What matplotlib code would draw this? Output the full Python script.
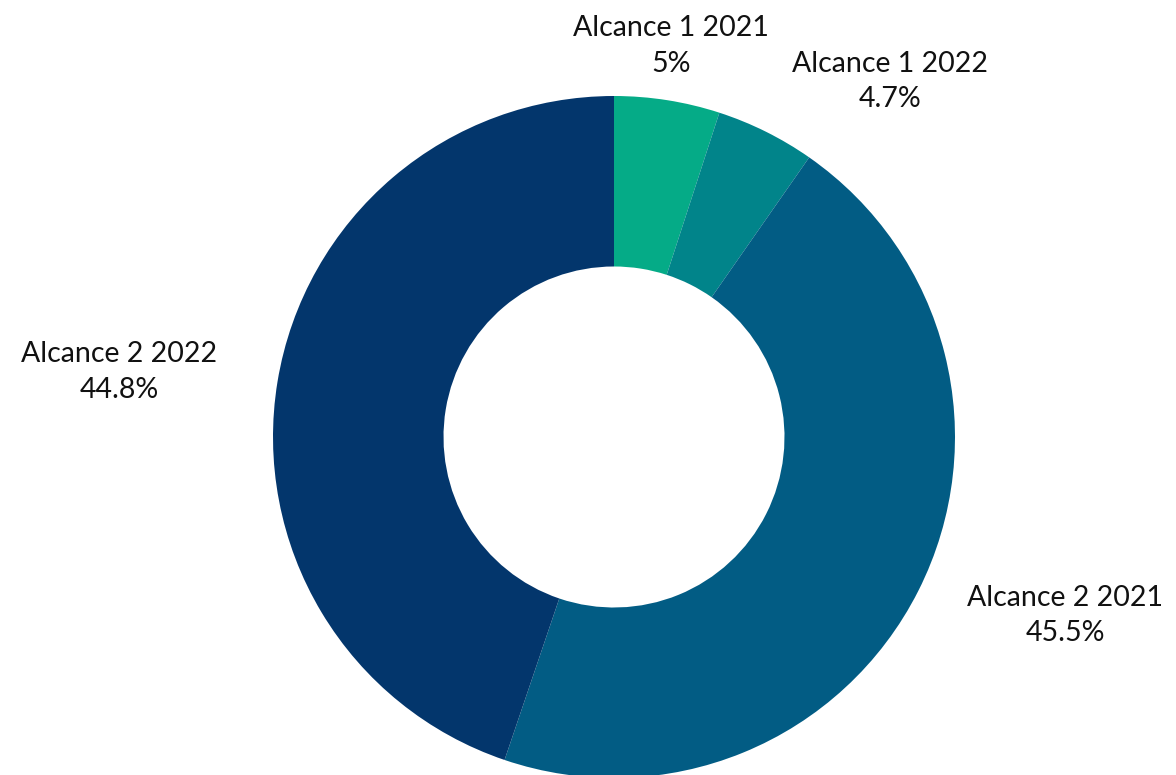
import numpy as np
import matplotlib.pyplot as plt

labels = ["Alcance 1 2021", "Alcance 1 2022", "Alcance 2 2021", "Alcance 2 2022"]
values = [5, 4.7, 45.5, 44.8]
pct_labels = ["5%", "4.7%", "45.5%", "44.8%"]
colors = ["#05ab87", "#01848a", "#025c84", "#03366c"]

plt.rcParams['font.family'] = ['Lato', 'DejaVu Sans']

fig = plt.figure(figsize=(11.76, 7.75), dpi=100)
# square axes centred on the donut, radius 341 px
ax = fig.add_axes([(614 - 341) / 1176, (775 - 437 - 341) / 775, 682 / 1176, 682 / 775])

wedges, _ = ax.pie(values, colors=colors, startangle=90, counterclock=False,
                   radius=1.0, wedgeprops=dict(width=0.5, linewidth=0))
ax.set_xlim(-1, 1)
ax.set_ylim(-1, 1)
ax.set_aspect('equal')
ax.axis('off')

# label placement: radius, alignment and small pixel nudge per slice
label_r = [1.07, 1.09, 1.16, 1.17]
aligns = [('center', 'bottom'), ('left', 'bottom'), ('left', 'center'), ('right', 'center')]
nudges = [(0, 0), (12, -8), (0, 0), (-3, 0)]
for w, lab, pct, r, (ha, va), nd in zip(wedges, labels, pct_labels, label_r, aligns, nudges):
    ang = np.deg2rad((w.theta1 + w.theta2) / 2)
    x, y = r * np.cos(ang), r * np.sin(ang)
    ax.annotate(f"{lab}\n{pct}", xy=(x, y), xytext=nd, textcoords='offset pixels',
                ha=ha, va=va, multialignment='center',
                fontsize=20.5, color='#111111', linespacing=1.45, annotation_clip=False)

fig.savefig("out.png", dpi=100)
